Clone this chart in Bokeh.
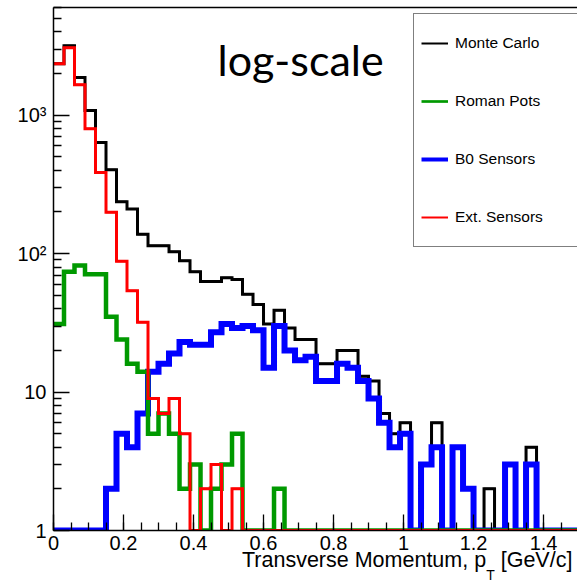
import numpy as np
from bokeh.plotting import figure
from bokeh.layouts import column
from bokeh.models import Range1d, FixedTicker, LinearAxis, Legend, LegendItem, Label, Div
from bokeh.embed import file_html
from bokeh.resources import INLINE

# Histogram binning: 50 bins of 0.03 GeV/c starting at 0
bin_width = 0.03
n_bins = 50

monte_carlo = [2350, 3175, 1870, 1080, 635, 404, 237, 210, 138, 114,
               114, 103, 89, 74, 63, 63, 67, 65, 51, 43,
               31, 39, 29, 24, 24, 16, 16, 20, 20, 13,
               12, 7, 5, 6, 0, 3, 6, 0, 4, 2,
               0, 2, 0, 3, 0, 4, 0, 0, 0, 0]
roman_pots = [31, 74, 82, 71, 71, 35, 24, 16, 14, 5,
              7, 5, 2, 3, 0, 2, 3, 5, 0, 0,
              0, 2, 0, 0, 0, 0, 0, 0, 0, 0,
              0, 0, 0, 0, 0, 0, 0, 0, 0, 0,
              0, 0, 0, 0, 0, 0, 0, 0, 0, 0]
b0_sensors = [0, 0, 0, 0, 0, 2, 5, 4, 7, 14,
              16, 19, 23, 22, 22, 27, 31, 29, 30, 28,
              15, 30, 20, 17, 18, 12, 12, 16, 15, 12,
              9, 6, 4, 5, 0, 3, 4, 0, 4, 2,
              0, 0, 0, 3, 0, 3, 0, 0, 0, 0]
ext_sensors = [2350, 3070, 1660, 800, 385, 199, 88, 54, 32, 9,
               7, 9, 5, 0, 2, 3, 0, 2, 0, 0,
               0, 0, 0, 0, 0, 0, 0, 0, 0, 0,
               0, 0, 0, 0, 0, 0, 0, 0, 0, 0,
               0, 0, 0, 0, 0, 0, 0, 0, 0, 0]

series_names = ["Monte Carlo", "Roman Pots", "B0 Sensors", "Ext. Sensors"]

x_ticks = [0, 0.2, 0.4, 0.6, 0.8, 1.0, 1.2, 1.4]
x_tick_labels = ["0", "0.2", "0.4", "0.6", "0.8", "1", "1.2", "1.4"]
y_ticks = [1, 10, 100, 1000]
y_tick_labels = ["1", "10", "10\u00b2", "10\u00b3"]

x_min, x_max = 0.0, 1.497
y_min, y_max = 1.0, 6000.0

edges = np.arange(n_bins + 1) * bin_width


def step_path(counts):
    """Outline of a histogram; empty bins sit on the lower frame edge."""
    xs, ys = [], []
    for i, c in enumerate(counts):
        v = max(c, y_min)
        xs += [edges[i], edges[i + 1]]
        ys += [v, v]
    return xs, ys


FONT = "Liberation Sans"

p = figure(width=577, height=583, y_axis_type="log",
           x_range=Range1d(x_min, x_max), y_range=Range1d(y_min, y_max),
           output_backend="svg", toolbar_location=None,
           min_border_left=53, min_border_right=0,
           min_border_top=7, min_border_bottom=53)
p.outline_line_color = None
p.xgrid.visible = False
p.ygrid.visible = False
p.background_fill_color = "white"
p.border_fill_color = "white"

# drawing order: black, blue, green, red (red ends up on top)
styles = [
    ("Monte Carlo", monte_carlo, "#000000", 3.0, 2.0),
    ("B0 Sensors", b0_sensors, "#0000ff", 6.0, 4.0),
    ("Roman Pots", roman_pots, "#009900", 4.5, 2.7),
    ("Ext. Sensors", ext_sensors, "#ff0000", 3.0, 2.0),
]
legend_swatches = {}
for name, counts, color, lw, legend_lw in styles:
    xs, ys = step_path(counts)
    # thinner copy (hidden under the histogram) provides the legend swatch
    legend_swatches[name] = p.line(xs, ys, line_color=color, line_width=legend_lw)
    p.line(xs, ys, line_color=color, line_width=lw, line_join="miter")

# axes, ROOT style: ticks pointing into the frame
xa = p.xaxis[0]
xa.ticker = FixedTicker(ticks=x_ticks,
                        minor_ticks=[round(0.05 * k, 2) for k in range(0, 31)])
xa.major_label_overrides = dict(zip(x_ticks, x_tick_labels))
ya = p.yaxis[0]
ya.ticker = FixedTicker(ticks=y_ticks,
                        minor_ticks=[m * 10 ** e for e in range(0, 4) for m in range(2, 10)])
ya.major_label_overrides = dict(zip(y_ticks, y_tick_labels))
for ax in (xa, ya):
    ax.major_tick_in = 16
    ax.major_tick_out = 0
    ax.minor_tick_in = 8
    ax.minor_tick_out = 0
    ax.axis_line_color = "black"
    ax.axis_line_width = 1.5
    ax.major_tick_line_color = "black"
    ax.minor_tick_line_color = "black"
    ax.major_tick_line_width = 1.3
    ax.minor_tick_line_width = 1.3
    ax.major_label_text_font = FONT
    ax.major_label_text_font_size = "20px"
    ax.major_label_text_color = "black"
xa.major_label_standoff = 5
ya.major_label_standoff = 7

top_axis = LinearAxis(ticker=FixedTicker(ticks=[]), major_label_text_font_size="0px",
                      major_tick_in=0, major_tick_out=0, minor_tick_in=0, minor_tick_out=0,
                      axis_line_color="black", axis_line_width=1.5)
p.add_layout(top_axis, "above")

p.add_layout(Label(text="log-scale", x=x_min, y=y_max, x_offset=164, y_offset=-52,
                   text_font="Lato", text_font_size="43px", text_color="black",
                   text_baseline="middle", text_align="left"))

legend = Legend(items=[LegendItem(label=n, renderers=[legend_swatches[n]]) for n in series_names],
                location=(360, 283), orientation="vertical",
                padding=7, spacing=14, glyph_width=27, glyph_height=44,
                label_height=44, label_width=130, label_standoff=7,
                label_text_font=FONT, label_text_font_size="15.5px",
                label_text_color="black",
                border_line_color="black", border_line_width=1.3,
                background_fill_color="white", background_fill_alpha=1.0)
p.add_layout(legend, "center")

# x-axis title (with subscripted T), laid over the bottom strip of the figure
x_title = Div(
    text=('<div style="font-family:\'Liberation Sans\'; font-size:21.5px; line-height:21px; '
          'color:black; padding-left:242px; white-space:nowrap;">'
          'Transverse Momentum, p<span style="font-size:14px; line-height:0; '
          'vertical-align:-13px;">T</span> [GeV/c]</div>'),
    width=577, height=33, margin=(-33, 0, 0, 0))

open("out.html", "w").write(file_html(column(p, x_title, spacing=0), INLINE))
